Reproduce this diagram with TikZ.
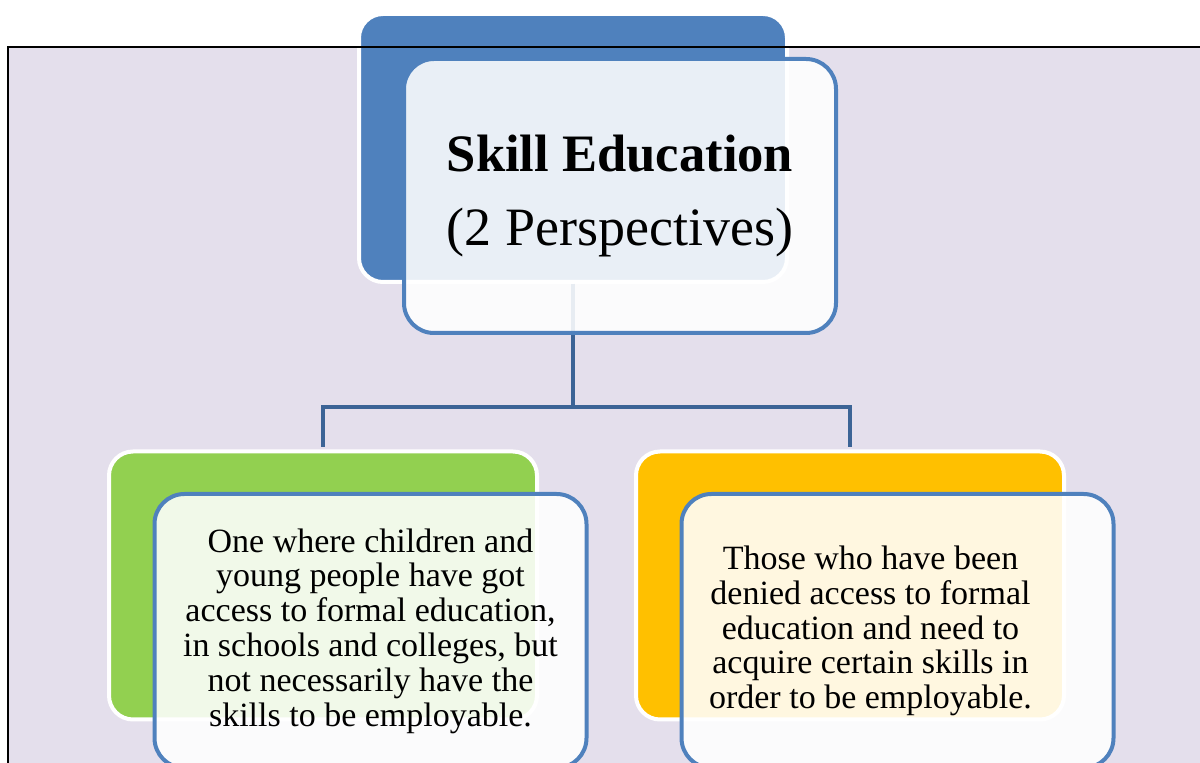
\documentclass[tikz,border=0pt]{standalone}
\usepackage{fontspec}
\setmainfont{Liberation Serif}
\usetikzlibrary{positioning}
\definecolor{pagelilac}{HTML}{E4DFEC}
\definecolor{headblue}{HTML}{4F81BD}
\definecolor{linkblue}{HTML}{3C6496}
\definecolor{leafgreen}{HTML}{92D050}
\definecolor{leafgold}{HTML}{FFC000}
\tikzset{
  backbox/.style={rounded corners=12pt, draw=white, line width=2pt,
    minimum width=214pt, minimum height=134pt, inner sep=0pt},
  frontbox/.style={rounded corners=15pt, draw=headblue, line width=2pt,
    fill=white, fill opacity=0.88, text opacity=1,
    minimum width=216pt, minimum height=137pt, inner sep=0pt},
  link/.style={draw=linkblue, line width=2pt},
  bodytext/.style={align=center, font=\fontsize{17}{17.4}\selectfont},
}

\begin{document}
\begin{tikzpicture}[x=0.5pt, y=-0.5pt]
        \useasboundingbox (0,0) rectangle (1200,763);
        % Page background
        \fill[pagelilac] (8,47) rectangle (1200,763);

        % Head box
        \node[backbox, fill=headblue] (topback) at (573,148) {};
        \coordinate (split) at (573,407);
        \draw[link] (topback.south) -- (split);

        % Back boxes of the two branches
        \node[backbox, fill=leafgreen] (leftback) at (323,585.5) {};
        \node[backbox, fill=leafgold] (rightback) at (850,585.5) {};
        \draw[link, shorten >=1pt] (split) -| (leftback.north);
        \draw[link, shorten >=1pt] (split) -| (rightback.north);

        % Front boxes
        \node[frontbox, align=center, font=\fontsize{26.3}{37}\selectfont] (topfront) at (620,196)
            {\textbf{Skill Education}\\{\fontsize{27}{37}\selectfont(2 Perspectives)}};
        \node[frontbox] (leftfront) at (370.5,631) {};
        \node[frontbox] (rightfront) at (897.5,631) {};

        % Texts
        \node[bodytext] (lefttext) at (leftfront) {One where children and\\young people have got\\access to formal education,\\in schools and colleges, but\\not necessarily have the\\skills to be employable.};
        \node[bodytext] (righttext) at ([xshift=-13.5pt]rightfront.center) {Those who have been\\denied access to formal\\education and need to\\acquire certain skills in\\order to be employable.};

        % Page frame
        \draw[line width=1pt] (1200,47) -- (8,47) -- (8,763);
\end{tikzpicture}
\end{document}
